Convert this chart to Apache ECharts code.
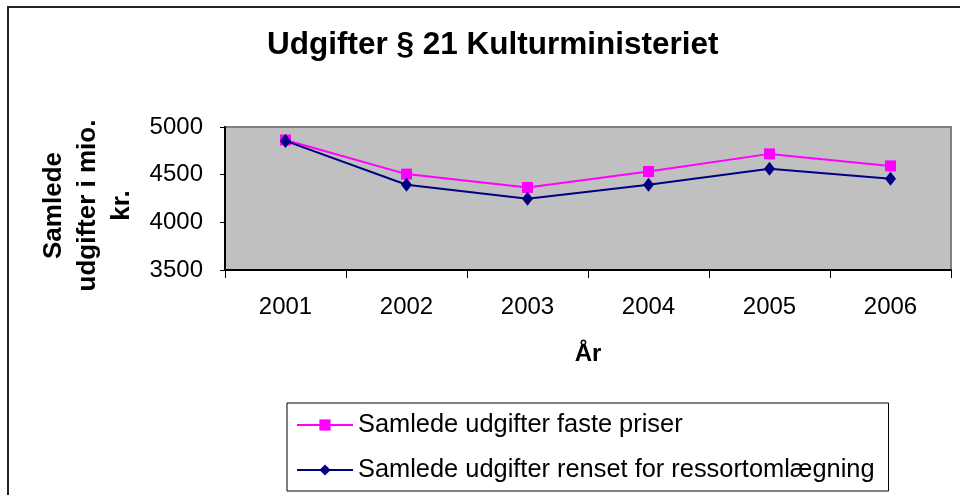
<!DOCTYPE html>
<html>
<head>
<meta charset="utf-8">
<script src="https://cdn.jsdelivr.net/npm/echarts@6/dist/echarts.min.js"></script>
<style>
html,body{margin:0;padding:0;background:#fff;}
#chart{width:960px;height:495px;}
</style>
</head>
<body>
<div id="chart"></div>
<script>
var titleText = 'Udgifter § 21 Kulturministeriet';
var years = ['2001', '2002', '2003', '2004', '2005', '2006'];
var seriesNames = ['Samlede udgifter faste priser', 'Samlede udgifter renset for ressortomlægning'];
var fastePriser = [4864, 4506, 4366, 4533, 4718, 4592];
var rensetRessort = [4854, 4394, 4248, 4394, 4561, 4457];
var yAxisName = 'Samlede\nudgifter i mio.\nkr.';
var xAxisName = 'År';

var FONT = '"Liberation Sans", Arial, sans-serif';
var chart = echarts.init(document.getElementById('chart'), null, {renderer: 'canvas'});
chart.setOption({
  animation: false,
  backgroundColor: '#ffffff',
  textStyle: {fontFamily: FONT, color: '#000'},
  graphic: [{
    type: 'rect',
    shape: {x: 8, y: 7, width: 2000, height: 2000},
    style: {fill: 'none', stroke: '#222', lineWidth: 2},
    silent: true, z: -10
  }],
  title: {
    text: titleText,
    left: 267, top: 29, padding: 0,
    textStyle: {fontFamily: FONT, fontSize: 31.5, fontWeight: 'bold', color: '#000'}
  },
  legend: {
    orient: 'vertical',
    left: 287, top: 403,
    padding: [7, 14, 6, 9],
    borderColor: '#000', borderWidth: 1,
    itemWidth: 56, itemHeight: 14, itemGap: 15,
    textStyle: {fontFamily: FONT, fontSize: 25.4, lineHeight: 30, color: '#000'},
    data: seriesNames
  },
  grid: {
    left: 225, top: 127, right: 9, bottom: 225,
    show: true, backgroundColor: '#C0C0C0', borderColor: '#808080', borderWidth: 2,
    outerBoundsMode: 'none', containLabel: false
  },
  xAxis: {
    type: 'category',
    data: years,
    boundaryGap: true,
    name: xAxisName,
    nameLocation: 'middle',
    nameGap: 72,
    nameTextStyle: {fontFamily: FONT, fontSize: 24, fontWeight: 'bold', color: '#000'},
    axisLine: {show: true, lineStyle: {color: '#000', width: 2}},
    axisTick: {show: true, inside: false, length: 8, interval: 0, lineStyle: {color: '#000', width: 1}},
    axisLabel: {fontFamily: FONT, fontSize: 24, color: '#000', margin: 25, interval: 0},
    splitLine: {show: false}
  },
  yAxis: {
    type: 'value',
    min: 3500, max: 5000, interval: 500,
    name: yAxisName,
    nameLocation: 'middle',
    nameGap: 84,
    nameRotate: 90,
    nameTextStyle: {fontFamily: FONT, fontSize: 26, fontWeight: 'bold', color: '#000', lineHeight: 34, align: 'center', padding: [0, 14, 0, 0]},
    axisLine: {show: true, lineStyle: {color: '#000', width: 2}},
    axisTick: {show: true, inside: false, length: 5, lineStyle: {color: '#000', width: 1}},
    axisLabel: {fontFamily: FONT, fontSize: 24, color: '#000', margin: 22, formatter: function (v) { return String(v); }},
    splitLine: {show: false}
  },
  series: [{
    name: seriesNames[0],
    type: 'line',
    data: fastePriser,
    symbol: 'rect', symbolSize: 11, showAllSymbol: true,
    lineStyle: {color: '#FF00FF', width: 2},
    itemStyle: {color: '#FF00FF'},
    z: 2
  }, {
    name: seriesNames[1],
    type: 'line',
    data: rensetRessort,
    symbol: 'diamond', symbolSize: [11, 14], showAllSymbol: true,
    lineStyle: {color: '#000080', width: 2},
    itemStyle: {color: '#000080'},
    z: 3
  }]
});
</script>
</body>
</html>
